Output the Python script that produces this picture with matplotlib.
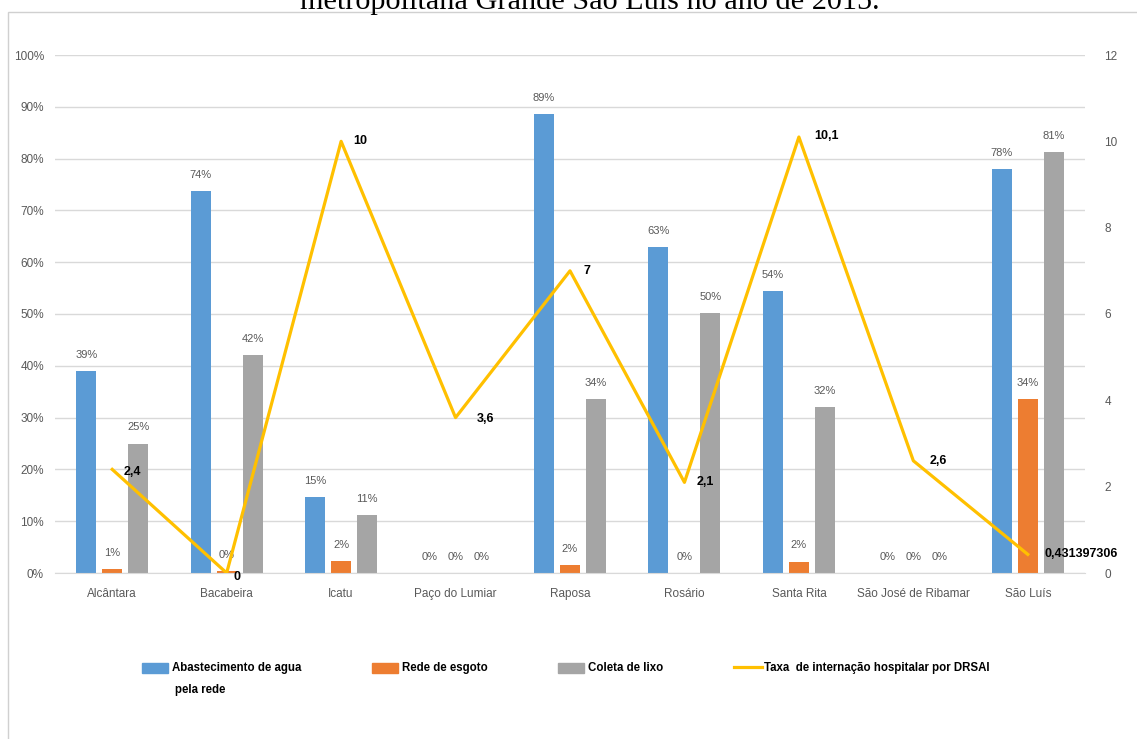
import matplotlib.pyplot as plt
import numpy as np
from matplotlib.patches import Rectangle
from matplotlib.lines import Line2D

plt.rcParams['font.family'] = ['Liberation Sans', 'DejaVu Sans']

municipios = ["Alcântara", "Bacabeira", "Icatu", "Paço do Lumiar", "Raposa",
              "Rosário", "Santa Rita", "São José de Ribamar", "São Luís"]
agua = [38.9, 73.7, 14.7, 0, 88.6, 63.0, 54.4, 0, 78.0]
esgoto = [0.8, 0.3, 2.3, 0, 1.5, 0, 2.2, 0, 33.6]
lixo = [25.0, 42.0, 11.2, 0, 33.6, 50.2, 32.0, 0, 81.2]
taxa = [2.4, 0, 10, 3.6, 7, 2.1, 10.1, 2.6, 0.431397306]
taxa_labels = ["2,4", "0", "10", "3,6", "7", "2,1", "10,1", "2,6", "0,431397306"]

c_agua = "#5B9BD5"
c_esgoto = "#ED7D31"
c_lixo = "#A5A5A5"
c_taxa = "#FFC000"
grey_txt = "#595959"

W, H = 1137, 739
fig = plt.figure(figsize=(W / 100, H / 100), dpi=100)


def fx(px):
    return px / W


def fy(py):
    return 1 - py / H


fig.patches.append(Rectangle((fx(8), -0.01), 1.1, fy(12) + 0.01,
                             transform=fig.transFigure, fill=False,
                             edgecolor="#d0d0d0", linewidth=1))
fig.text(fx(590), fy(9), "metropolitana Grande São Luís no ano de 2015.",
         ha="center", va="baseline", fontsize=21.8, family="Liberation Serif")

ax = fig.add_axes([fx(55), fy(573), fx(1030), 518 / H])
x = np.arange(len(municipios))
w = 0.175
off = 0.227
series = [(agua, c_agua, -off), (esgoto, c_esgoto, 0), (lixo, c_lixo, off)]
for vals, col, dx in series:
    ax.bar(x + dx, vals, width=w, color=col, zorder=2)
    for xi, v in zip(x, vals):
        ax.annotate(f"{round(v):d}%", (xi + dx, v), xytext=(0, 8),
                    textcoords="offset points", ha="center", va="bottom",
                    fontsize=8, color=grey_txt)

ax.set_xlim(-0.5, len(municipios) - 0.5)
ax.set_ylim(0, 100)
ax.set_yticks(np.arange(0, 101, 10))
ax.set_yticklabels([f"{t}%" for t in range(0, 101, 10)])
ax.set_xticks(x)
ax.set_xticklabels(municipios)
ax.grid(axis="y", color="#d9d9d9", linewidth=1, zorder=0)
ax.set_axisbelow(True)
for s in ["top", "right", "left"]:
    ax.spines[s].set_visible(False)
ax.spines["bottom"].set_color("#d9d9d9")
ax.tick_params(axis="both", length=0, labelsize=8.5, colors=grey_txt)
ax.tick_params(axis="x", pad=11)
ax.tick_params(axis="y", pad=8)

ax2 = ax.twinx()
ax2.plot(x, taxa, color=c_taxa, linewidth=2.3, zorder=3)
ax2.set_ylim(0, 12)
ax2.set_yticks(np.arange(0, 13, 2))
for s in ax2.spines.values():
    s.set_visible(False)
ax2.tick_params(axis="y", length=0, labelsize=8.5, colors=grey_txt, pad=14)
label_offsets = [(8, -2), (5, -3), (9, 0), (15, -1), (10, 0), (9, 0), (11, 1), (12, 0), (12, 0)]
for xi, v, lab, o in zip(x, taxa, taxa_labels, label_offsets):
    ax2.annotate(lab, (xi, v), xytext=o, textcoords="offset points",
                 ha="left", va="center", fontsize=9, fontweight="bold",
                 color="black")

# legend drawn by hand so the entries sit where the reference has them
leg_y = 668
leg_items = [("patch", c_agua, 142, "Abastecimento de agua"),
             ("patch", c_esgoto, 372, "Rede de esgoto"),
             ("patch", c_lixo, 558, "Coleta de lixo"),
             ("line", c_taxa, 734, "Taxa  de internação hospitalar por DRSAI")]
for kind, col, x0, name in leg_items:
    if kind == "patch":
        fig.patches.append(Rectangle((fx(x0), fy(leg_y + 5)), 26 / W, 10 / H,
                                     transform=fig.transFigure, color=col))
    else:
        fig.lines.append(Line2D([fx(x0), fx(x0 + 28)], [fy(leg_y - 1)] * 2,
                                transform=fig.transFigure, color=col,
                                linewidth=2.3))
    fig.text(fx(x0 + 30), fy(leg_y), name, ha="left", va="center",
             fontsize=8.3, fontweight="bold")
fig.text(fx(175), fy(690), "pela rede", ha="left", va="center",
         fontsize=8.3, fontweight="bold")

fig.savefig("out.png", dpi=100)
